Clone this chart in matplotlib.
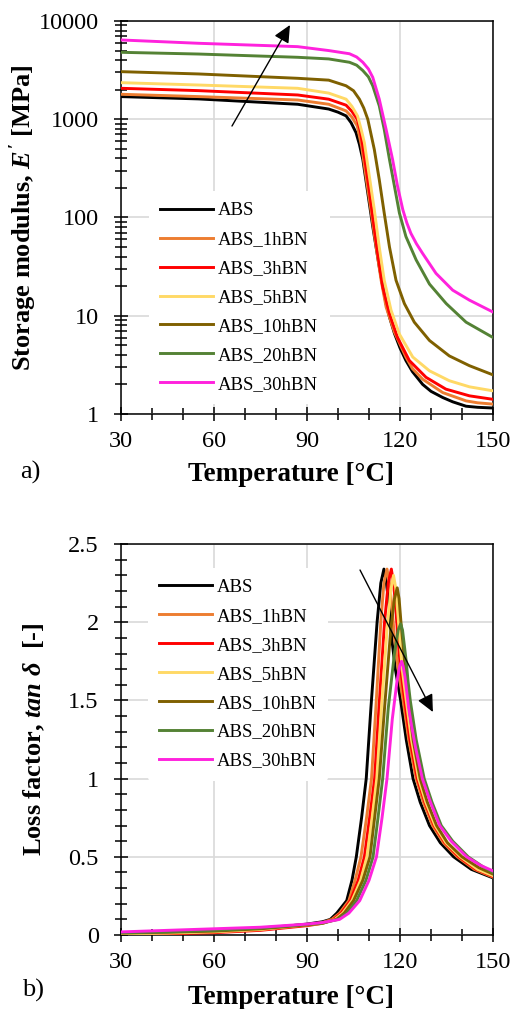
import matplotlib.pyplot as plt
from matplotlib.ticker import MultipleLocator, LogLocator, NullFormatter, FuncFormatter

plt.rcParams['font.family'] = ['Liberation Serif', 'DejaVu Serif']
plt.rcParams['mathtext.fontset'] = 'custom'
plt.rcParams['mathtext.it'] = 'Liberation Serif:italic:bold'
plt.rcParams['mathtext.rm'] = 'Liberation Serif:bold'

labels = ["ABS", "ABS_1hBN", "ABS_3hBN", "ABS_5hBN", "ABS_10hBN", "ABS_20hBN", "ABS_30hBN"]
colors = ["#000000", "#ed7d31", "#ff0000", "#ffd966", "#7f6000", "#548235", "#ff22dd"]

# storage modulus E' [MPa]
e_t_abs = [30, 55, 87, 97, 100, 102.6, 104.2, 105.8, 106.9, 108, 109.6, 111.2, 113.3, 115.5, 116.6,
           118.2, 120, 121.9, 124, 127.3, 130, 133.8, 137, 141.3, 145, 150]
e_abs = [1700, 1610, 1420, 1270, 1180, 1082, 924, 731, 555, 389, 178, 81, 31.5, 13.2, 9.7,
         6.6, 4.7, 3.5, 2.7, 2.0, 1.7, 1.47, 1.33, 1.2, 1.17, 1.15]
e_t_1 = [30, 55, 87, 97, 102.6, 104.5, 106.2, 107.6, 109, 110.6, 112.3, 113.9, 115.5, 118.2,
         121.9, 124, 127.3, 133.8, 141.3, 145, 150]
e_1 = [1795, 1700, 1570, 1420, 1216, 1050, 855, 533, 263, 120, 50, 23, 12.3, 6.8,
       3.8, 2.9, 2.26, 1.65, 1.36, 1.3, 1.26]
e_t_3 = [30, 55, 87, 97, 102.6, 104.5, 106.2, 107.2, 108, 109.6, 111.2, 112.8, 114.4, 116.6,
         119.2, 123, 128.4, 134.8, 142.4, 150]
e_3 = [2065, 1955, 1766, 1600, 1390, 1200, 1000, 760, 533, 243, 102, 43, 19.7, 10.5,
       6.0, 3.5, 2.36, 1.79, 1.53, 1.41]
e_t_5 = [30, 55, 87, 97, 102.6, 104.5, 106.3, 107.5, 108.5, 110.1, 111.7, 113.3, 114.9, 117.1,
         119.8, 124.1, 129.5, 135.9, 142.4, 150]
e_5 = [2356, 2230, 2065, 1845, 1600, 1350, 1080, 780, 577, 263, 120, 50, 23, 11.4,
       6.5, 3.8, 2.75, 2.18, 1.89, 1.72]
e_t_10 = [30, 55, 87, 97, 102.6, 105, 106.9, 108.3, 109.6, 111.7, 113.3, 114.9, 116.6, 118.7,
          121.4, 124.6, 129.5, 135.9, 142.4, 150]
e_10 = [3050, 2890, 2610, 2500, 2190, 1950, 1600, 1300, 1000, 493, 243, 111, 50, 23,
        13.3, 8.6, 5.6, 3.9, 3.1, 2.5]
e_t_20 = [30, 55, 87, 97, 103.7, 106, 108, 109.8, 111.2, 113.3, 114.9, 116.6, 118.2, 119.8, 121.9,
          125.2, 129.5, 134.9, 141.3, 150]
e_20 = [4800, 4610, 4270, 4110, 3800, 3550, 3130, 2700, 2190, 1370, 790, 389, 208, 111, 64,
        37, 21, 13.3, 8.6, 6.0]
e_t_30 = [30, 55, 87, 97, 103.7, 106, 108, 109.8, 111.2, 113.3, 115.5, 117.6, 119.2, 120.9, 122.2,
          123.5, 125.3, 127.3, 131.6, 137, 142.4, 150]
e_30 = [6410, 5930, 5480, 5000, 4640, 4300, 3800, 3250, 2670, 1600, 790, 389, 208, 120, 88,
        69, 54, 43, 27, 18.2, 14.4, 10.9]

# loss factor tan delta
d_t_abs = [30, 45, 60, 75, 90, 95, 97.5, 99.6, 102.8, 104.5, 105.9, 107.6, 109.1, 110.6, 112.6, 113.8,
           114.8, 115.6, 116.5, 117.3, 118.5, 120.2, 122, 124.2, 126.5, 129.5, 133, 137.3, 143, 150]
d_abs = [0.005, 0.01, 0.02, 0.04, 0.07, 0.085, 0.1, 0.14, 0.22, 0.35, 0.5, 0.75, 1.0, 1.45, 2.0, 2.25,
         2.34, 2.25, 2.1, 1.9, 1.7, 1.5, 1.25, 1.0, 0.85, 0.7, 0.59, 0.5, 0.42, 0.365]
d_t_1 = [30, 45, 60, 75, 90, 95, 98, 100.5, 103.5, 105.5, 107.4, 109.2, 110.8, 112.2, 113.8, 114.8,
         115.8, 116.6, 117.4, 118.2, 119.4, 121, 122.8, 125.2, 127.5, 130.5, 134, 138.5, 144, 150]
d_1 = [0.005, 0.01, 0.02, 0.035, 0.065, 0.08, 0.1, 0.14, 0.22, 0.35, 0.5, 0.75, 1.0, 1.45, 2.0, 2.25,
       2.34, 2.25, 2.1, 1.9, 1.7, 1.5, 1.25, 1.0, 0.85, 0.7, 0.59, 0.5, 0.42, 0.37]
d_t_3 = [30, 45, 60, 75, 90, 95, 98.5, 101, 104, 106.5, 108.5, 110.2, 111.8, 113.2, 115, 116.2,
         117.2, 117.9, 118.6, 119.3, 120.2, 121.5, 123.2, 125.6, 128, 131, 134.5, 139, 144.5, 150]
d_3 = [0.003, 0.008, 0.015, 0.03, 0.06, 0.075, 0.1, 0.14, 0.22, 0.35, 0.5, 0.75, 1.0, 1.45, 2.0, 2.25,
       2.34, 2.25, 2.1, 1.9, 1.7, 1.5, 1.25, 1.0, 0.85, 0.7, 0.59, 0.5, 0.42, 0.375]
d_t_5 = [30, 45, 60, 75, 90, 95, 99, 101.5, 104.5, 107.3, 109.3, 111, 112.5, 114, 115.8, 117,
         117.9, 118.6, 119.2, 119.9, 120.7, 122, 123.7, 126, 128.3, 131.3, 134.8, 139.5, 145, 150]
d_5 = [0.008, 0.012, 0.02, 0.035, 0.065, 0.075, 0.1, 0.14, 0.22, 0.35, 0.5, 0.75, 1.0, 1.45, 1.95, 2.2,
       2.30, 2.22, 2.08, 1.9, 1.7, 1.5, 1.25, 1.0, 0.85, 0.7, 0.59, 0.5, 0.42, 0.38]
d_t_10 = [30, 45, 60, 75, 90, 95, 99.5, 102, 105, 108, 110.3, 111.8, 113.3, 115, 117, 118.2,
          119.1, 119.7, 120.3, 121, 121.8, 122.7, 124.2, 126.5, 128.8, 131.8, 135.3, 140, 145.5, 150]
d_10 = [0.012, 0.018, 0.025, 0.04, 0.065, 0.075, 0.1, 0.14, 0.22, 0.35, 0.5, 0.75, 1.0, 1.45, 1.95, 2.15,
        2.22, 2.15, 2.0, 1.85, 1.68, 1.5, 1.25, 1.0, 0.85, 0.7, 0.59, 0.5, 0.43, 0.39]
d_t_20 = [30, 45, 60, 75, 90, 95, 100, 102.8, 106, 109, 111.3, 112.9, 114.4, 116.2, 118.2, 119.4,
          120.2, 120.8, 121.4, 122, 122.6, 123.3, 125.2, 127.8, 130.3, 133.3, 137, 142, 146.5, 150]
d_20 = [0.015, 0.02, 0.03, 0.045, 0.068, 0.078, 0.1, 0.14, 0.22, 0.35, 0.5, 0.75, 1.0, 1.45, 1.8, 1.95,
        1.99, 1.95, 1.85, 1.75, 1.62, 1.5, 1.25, 1.0, 0.85, 0.7, 0.6, 0.5, 0.44, 0.40]
d_t_30 = [30, 45, 60, 75, 90, 95, 100.5, 103.5, 107, 110, 112.4, 114.2, 115.8, 117.5, 119, 119.9,
          120.5, 121, 121.6, 122.2, 122.8, 123.6, 125, 127.2, 129.8, 132.8, 136.5, 141.5, 146, 150]
d_30 = [0.02, 0.03, 0.04, 0.05, 0.07, 0.08, 0.1, 0.14, 0.22, 0.35, 0.5, 0.75, 1.0, 1.38, 1.62, 1.72,
        1.75, 1.72, 1.65, 1.55, 1.45, 1.35, 1.2, 1.0, 0.85, 0.7, 0.6, 0.5, 0.445, 0.41]

e_series = [(e_t_abs, e_abs), (e_t_1, e_1), (e_t_3, e_3), (e_t_5, e_5),
            (e_t_10, e_10), (e_t_20, e_20), (e_t_30, e_30)]
d_series = [(d_t_abs, d_abs), (d_t_1, d_1), (d_t_3, d_3), (d_t_5, d_5),
            (d_t_10, d_10), (d_t_20, d_20), (d_t_30, d_30)]

fig = plt.figure(figsize=(5.16, 10.09), dpi=100)
ax1 = fig.add_axes([0.2345, 0.5897, 0.721, 0.3895])
ax2 = fig.add_axes([0.2345, 0.0733, 0.721, 0.3875])


def style(ax, xlab_y):
    ax.set_xlim(30, 150)
    ax.xaxis.set_major_locator(MultipleLocator(30))
    ax.xaxis.set_minor_locator(MultipleLocator(10))
    ax.grid(True, which='major', color='#d9d9d9', lw=1.2, zorder=0)
    ax.set_axisbelow(True)
    for s in ax.spines.values():
        s.set_linewidth(1.1)
    ax.tick_params(which='major', direction='inout', length=10, width=1.1, labelsize=17.5)
    ax.tick_params(which='minor', direction='inout', length=8, width=1.1)
    ax.tick_params(axis='y', which='major', pad=11)
    ax.tick_params(axis='x', which='major', pad=7)
    ax.set_xlabel("Temperature [°C]", fontsize=19.5, fontweight='bold')
    ax.xaxis.set_label_coords(0.457, xlab_y)


def legend(ax, anchor, loc):
    leg = ax.legend(loc=loc, bbox_to_anchor=anchor, fontsize=13.5, frameon=True,
                    handlelength=2.8, handletextpad=0.3, labelspacing=0.63, borderpad=0.6,
                    borderaxespad=0)
    leg.get_frame().set_facecolor('white')
    leg.get_frame().set_edgecolor('none')
    leg.get_frame().set_alpha(1)


arrow = dict(arrowstyle='-|>,head_length=0.7,head_width=0.33', mutation_scale=15,
             color='black', lw=1.0, shrinkA=0, shrinkB=0)

# a) storage modulus
for (t, v), c, lab in zip(e_series, colors, labels):
    ax1.plot(t, v, color=c, lw=2.1, label=lab, zorder=3)
ax1.set_yscale('log')
ax1.set_ylim(1, 10000)
ax1.yaxis.set_major_locator(LogLocator(base=10, numticks=10))
ax1.yaxis.set_minor_locator(LogLocator(base=10, subs=range(2, 10), numticks=20))
ax1.yaxis.set_minor_formatter(NullFormatter())
ax1.yaxis.set_major_formatter(FuncFormatter(lambda v, p: "%d" % v))
style(ax1, -0.122)
ax1.set_ylabel(r"Storage modulus, $E'$ [MPa]", fontsize=19, fontweight='bold')
ax1.yaxis.set_label_coords(-0.221, 0.5)
ax1.annotate("", xy=(84.5, 9100), xytext=(65.8, 853), arrowprops=arrow, zorder=5)
legend(ax1, (0.075, 0.025), 'lower left')

# b) loss factor
for (t, v), c, lab in zip(d_series, colors, labels):
    ax2.plot(t, v, color=c, lw=2.1, label=lab, zorder=3)
ax2.set_ylim(0, 2.5)
ax2.yaxis.set_major_locator(MultipleLocator(0.5))
ax2.yaxis.set_minor_locator(MultipleLocator(0.1))
ax2.yaxis.set_major_formatter(FuncFormatter(lambda v, p: "%g" % v))
style(ax2, -0.128)
ax2.set_ylabel(r"Loss factor, $tan\ \delta$  [-]", fontsize=19, fontweight='bold')
ax2.yaxis.set_label_coords(-0.199, 0.5)
ax2.annotate("", xy=(130.6, 1.426), xytext=(107.1, 2.334), arrowprops=arrow, zorder=5)
legend(ax2, (0.072, 0.94), 'upper left')

fig.text(0.039, 1 - 472 / 1009, "a)", fontsize=19, va='center', ha='left')
fig.text(0.043, 1 - 990 / 1009, "b)", fontsize=19, va='center', ha='left')

fig.savefig("out.png", dpi=100)
